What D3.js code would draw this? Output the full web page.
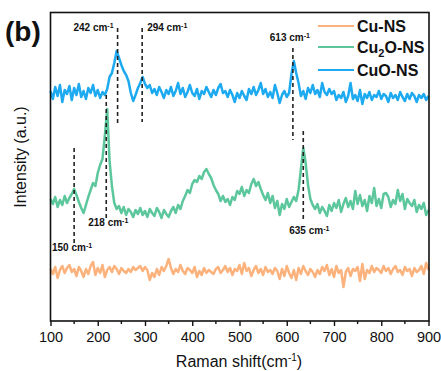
<!DOCTYPE html>
<html><head><meta charset="utf-8">
<script src="https://cdn.jsdelivr.net/npm/d3@7"></script>
<style>body{margin:0;background:#fff}svg{display:block;font-family:"Liberation Sans",Arial,sans-serif}</style>
</head><body><svg id="c" width="441" height="371"></svg>
<script>
// Raman shift grid: 100..900 cm-1, one sample every 5 cm-1
const shiftStart = 100, shiftStep = 5;
const xTicks = [100,200,300,400,500,600,700,800,900];

const cuNS = [52,47,54,43,51,55,48,53,56,49,52,45,54,50,44,52,47,55,59,46,
53,48,56,44,51,54,49,55,52,47,53,50,48,52,49,54,51,53,55,50,
54,51,41,48,44,52,46,54,50,55,62,53,47,52,49,56,50,47,53,51,
48,54,44,50,46,53,48,51,49,47,52,54,48,51,55,49,53,46,52,50,
56,47,58,50,53,45,51,55,48,52,46,54,49,51,47,53,50,42,52,45,
55,48,43,51,41,53,47,55,50,46,52,49,44,51,47,54,50,56,46,52,
44,55,48,51,34,49,53,45,52,50,54,40,57,42,51,48,55,49,53,51,
48,55,50,53,47,52,55,49,51,46,54,50,52,45,53,49,51,55,47,58,51];

const cu2oNS = [122,117,124,114,121,116,125,118,123,127,132,126,119,113,108,116,124,131,138,135,
148,156,162,185,212,160,135,118,112,115,108,114,106,112,109,104,111,107,113,106,
110,104,112,108,105,113,109,103,111,107,104,110,114,108,116,112,120,125,131,128,
137,141,139,145,142,149,152,147,143,136,131,127,120,125,119,122,116,124,121,130,
127,134,125,131,128,137,142,135,139,132,126,121,128,118,125,113,120,106,117,112,
122,114,119,124,120,131,152,173,158,136,122,116,112,117,108,114,110,105,116,110,
118,113,121,109,117,123,114,120,112,130,117,126,115,121,110,125,118,133,115,122,
113,127,128,124,114,121,117,131,120,127,112,122,118,115,121,109,116,112,118,106,111];

const cuoNS = [230,222,234,225,236,219,231,227,235,221,233,226,237,224,230,222,233,228,236,225,
231,223,229,226,232,244,248,258,270,263,256,250,246,240,228,220,226,233,238,244,
237,233,236,228,232,226,234,229,223,231,227,234,225,230,238,227,233,224,229,236,
228,225,232,222,230,227,234,229,224,231,226,233,237,228,230,224,231,226,219,228,
223,230,225,221,232,227,234,226,231,238,227,232,224,229,223,236,228,218,226,230,
224,228,247,260,248,238,225,230,222,233,228,236,227,231,224,238,229,226,232,227,
230,221,226,223,229,219,225,238,222,226,220,231,217,227,223,229,221,226,224,230,
222,227,225,219,228,223,226,221,229,224,220,227,222,228,225,219,226,223,227,221,225];

const seriesNames = ["Cu-NS","Cu2O-NS","CuO-NS"];
const seriesColors = ["#fcb27c","#5cc79c","#1daaf0"];
const seriesData = [cuNS, cu2oNS, cuoNS];

// peak annotations (shift, line top/bottom in a.u.)
const peakShift = [242,294,613,218,150,635];
const peakTop    = [293,293,273,226,173,190];
const peakBottom = [198,199,181,103,75,99];

const svg = d3.select("#c");
const x = d3.scaleLinear().domain([100,900]).range([50.5,428.5]);
const y = d3.scaleLinear().domain([0,308]).range([321,13]);

// series lines
const line = d3.line().x((d,i)=>x(shiftStart+i*shiftStep)).y(d=>y(d));
seriesData.forEach((s,k)=>{
  svg.append("path").datum(s).attr("d",line).attr("fill","none")
    .attr("stroke",seriesColors[k]).attr("stroke-width",2.5)
    .attr("stroke-linejoin","round");
});

// dashed annotation lines
peakShift.forEach((p,i)=>{
  svg.append("line").attr("x1",x(p)).attr("x2",x(p))
    .attr("y1",y(peakTop[i])).attr("y2",y(peakBottom[i]))
    .attr("stroke","#222").attr("stroke-width",1.6).attr("stroke-dasharray","4,3");
});

function cmLabel(txt, xp, yp, anchor){
  const t = svg.append("text").attr("x",xp).attr("y",yp).attr("text-anchor",anchor)
    .attr("font-size",10).attr("font-weight","bold").attr("fill","#111");
  t.append("tspan").text(txt+" cm");
  t.append("tspan").attr("dy",-3.5).attr("font-size",7).text("-1");
}
cmLabel("242", x(242)-4, 31, "end");
cmLabel("294", x(294)+5, 31, "start");
cmLabel("613", x(613)-3, 41, "middle");
cmLabel("218", x(218)+2, 226, "middle");
cmLabel("150", 52, 251, "start");
cmLabel("635", x(635)+6, 234, "middle");

// frame
svg.append("rect").attr("x",50.5).attr("y",12.5).attr("width",378.5).attr("height",308.5)
  .attr("fill","none").attr("stroke","#111").attr("stroke-width",1.6);

// x axis
const xAxis = d3.axisBottom(x).tickValues(xTicks).tickSize(5).tickSizeOuter(0);
const gx = svg.append("g").attr("transform","translate(0,321)").call(xAxis);
gx.select(".domain").remove();
gx.selectAll(".tick line").attr("stroke","#111").attr("stroke-width",1.4);
gx.selectAll(".tick text").attr("font-size",14.5).attr("fill","#111").attr("dy","0.9em")
  .style("font-family","'Liberation Sans',Arial,sans-serif");
const minor = d3.range(150,900,100);
svg.append("g").selectAll("line").data(minor).join("line")
  .attr("x1",d=>x(d)).attr("x2",d=>x(d)).attr("y1",321).attr("y2",324)
  .attr("stroke","#111").attr("stroke-width",1.4);

// axis titles
const xt = svg.append("text").attr("x",239).attr("y",367).attr("text-anchor","middle")
  .attr("font-size",16).attr("fill","#111");
xt.append("tspan").text("Raman shift(cm");
xt.append("tspan").attr("dy",-6).attr("font-size",10).text("-1");
xt.append("tspan").attr("dy",6).text(")");
svg.append("text").attr("transform","translate(26,157) rotate(-90)")
  .attr("text-anchor","middle").attr("font-size",16).attr("fill","#111").text("Intensity (a.u.)");

// panel label
svg.append("text").attr("x",5).attr("y",41).attr("font-size",28).attr("font-weight","bold")
  .attr("fill","#111").text("(b)");

// legend
const legY = [26,47,70];
seriesNames.forEach((n,k)=>{
  svg.append("line").attr("x1",318).attr("x2",354).attr("y1",legY[k]).attr("y2",legY[k])
    .attr("stroke",seriesColors[k]).attr("stroke-width",2.2);
  const t = svg.append("text").attr("x",357).attr("y",legY[k]+6).attr("font-size",16)
    .attr("font-weight","bold").attr("fill","#111");
  if(n==="Cu2O-NS"){
    t.append("tspan").text("Cu");
    t.append("tspan").attr("dy",4).attr("font-size",11).text("2");
    t.append("tspan").attr("dy",-4).text("O-NS");
  } else t.text(n);
});
</script></body></html>
